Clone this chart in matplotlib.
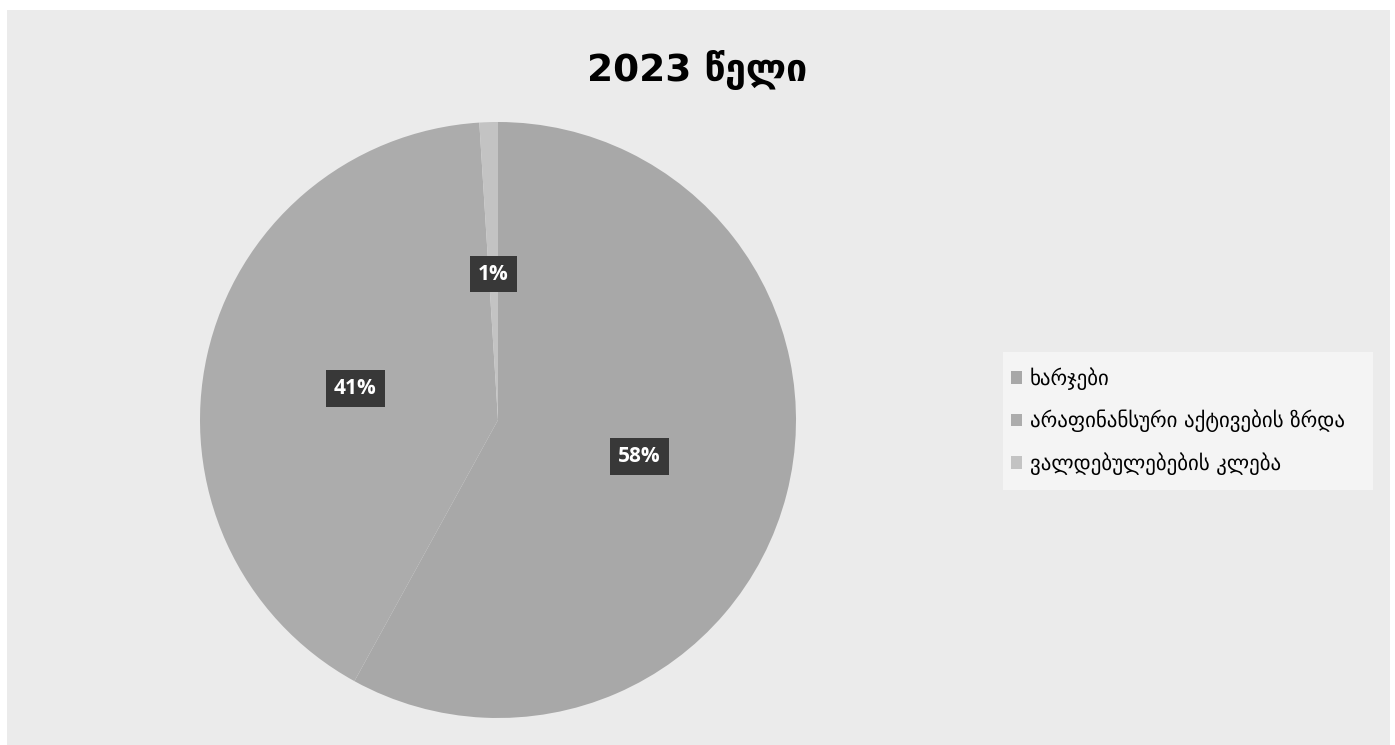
import matplotlib.pyplot as plt
from matplotlib.patches import Rectangle

# data
categories = ['ხარჯები', 'არაფინანსური აქტივების ზრდა', 'ვალდებულებების კლება']
shares = [58, 41, 1]
slice_colors = ['#a8a8a8', '#acacac', '#c3c3c3']
title_text = '2023 წელი'

plt.rcParams['font.family'] = ['DejaVu Sans']

fig = plt.figure(figsize=(13.95, 7.45), dpi=100, facecolor='white')

# scanned gray panel behind the chart
fig.patches.append(Rectangle((7 / 1395, 0), 1383 / 1395, 735 / 745,
                             transform=fig.transFigure, facecolor='#ebebeb',
                             edgecolor='none', zorder=-2))
# lighter area behind the legend
fig.patches.append(Rectangle((1003 / 1395, 255 / 745), 370 / 1395, 138 / 745,
                             transform=fig.transFigure, facecolor='#f4f4f4',
                             edgecolor='none', zorder=-1))

# pie axes: center (498, 420) px, radius ~298 px
r = 298
ax = fig.add_axes([(498 - r) / 1395, (745 - 420 - r) / 745, 2 * r / 1395, 2 * r / 745])
ax.set_facecolor('none')

wedges, texts, autotexts = ax.pie(
    shares, colors=slice_colors, startangle=90, counterclock=False,
    autopct=lambda p: f'{p:.0f}%', pctdistance=0.49, radius=1.0,
    wedgeprops=dict(linewidth=0))
ax.set_xlim(-1, 1)
ax.set_ylim(-1, 1)
ax.set_aspect('equal')

for t in autotexts:
    t.set_color('white')
    t.set_fontsize(15)
    t.set_fontweight('bold')
    t.set_family(['Open Sans', 'DejaVu Sans'])
    t.set_bbox(dict(boxstyle='square,pad=0.38', facecolor='#383838', edgecolor='none'))

fig.text(0.5, 1 - 70 / 745, title_text, ha='center', va='center',
         fontsize=27, fontweight='bold', color='black')

leg = fig.legend(wedges, categories, loc='center left',
                 bbox_to_anchor=(992 / 1395, 1 - 421 / 745), frameon=False,
                 fontsize=15, handlelength=0.55, handleheight=0.55,
                 handletextpad=0.35, labelspacing=0.95)
for h in leg.legend_handles:
    h.set_edgecolor('none')

fig.savefig('out.png', dpi=100, facecolor=fig.get_facecolor())
